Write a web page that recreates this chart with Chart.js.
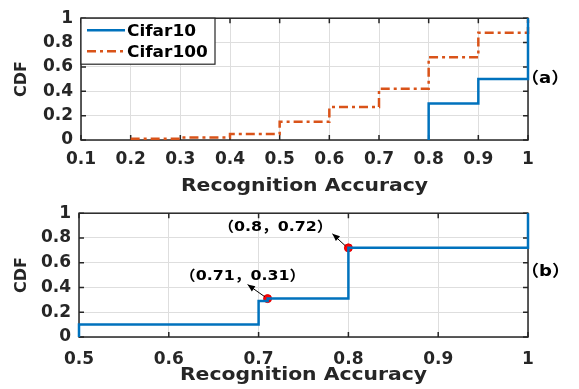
<!DOCTYPE html>
<html>
<head>
<meta charset="utf-8">
<script src="https://cdn.jsdelivr.net/npm/chart.js@4.4.1/dist/chart.umd.min.js"></script>
<style>
  body { margin: 0; background: #fff; }
  #wrap { position: relative; width: 579px; height: 389px; }
  canvas { position: absolute; left: 0; }
</style>
</head>
<body>
<div id="wrap">
  <canvas id="chartA" width="579" height="195" style="top:0"></canvas>
  <canvas id="chartB" width="579" height="194" style="top:195px"></canvas>
</div>
<script>
// --- DATA ---
const yTicks = [0, 0.2, 0.4, 0.6, 0.8, 1];
const topXTicks = [0.1, 0.2, 0.3, 0.4, 0.5, 0.6, 0.7, 0.8, 0.9, 1];
const bottomXTicks = [0.5, 0.6, 0.7, 0.8, 0.9, 1];

const cifar10X = [0.8, 0.8, 0.9, 1];
const cifar10Y = [0, 0.3, 0.5, 1];
const cifar100X = [0.2, 0.3, 0.4, 0.5, 0.6, 0.7, 0.8, 0.9, 1];
const cifar100Y = [0.01, 0.02, 0.05, 0.15, 0.27, 0.42, 0.68, 0.88, 1];

const detailX = [0.5, 0.5, 0.7, 0.71, 0.8, 1];
const detailY = [0, 0.1, 0.29, 0.31, 0.72, 1];
const markedX = [0.71, 0.8];
const markedY = [0.31, 0.72];
const markLabels = ['（0.71，0.31）', '（0.8，0.72）'];

const BLUE = '#0072BD';
const ORANGE = '#D95319';
const FONT = '"DejaVu Sans", sans-serif';
const STRETCH = 1.13; // reference text is a bit wider than the fonts we have

const pts = (xs, ys) => xs.map((v, i) => ({ x: v, y: ys[i] }));
const fmt = v => String(+v.toFixed(2));

// pixel offsets of the annotation arrows / texts relative to the marked point
const arrowOffsets = [[-20, -14], [-16, -14]];
const textOffsets = [[-25, -19], [-73, -17]];

// draw text with latin parts in DejaVu and full-width parts in Noto CJK, stretched a bit
function drawText(ctx, str, x, y, size, align) {
    const parts = [];
    for (const ch of str) {
        const cjk = ch.charCodeAt(0) >= 0x3000;
        const last = parts[parts.length - 1];
        if (last && last.cjk === cjk) last.t += ch; else parts.push({ t: ch, cjk });
    }
    const fontOf = p => 'bold ' + size + 'px ' + (p.cjk ? '"Noto Sans CJK SC"' : FONT);
    let w = 0;
    parts.forEach(p => { ctx.font = fontOf(p); p.w = ctx.measureText(p.t).width; w += p.w; });
    let cx = align === 'center' ? -w / 2 : (align === 'right' ? -w : 0);
    ctx.save();
    ctx.translate(x, y);
    ctx.scale(STRETCH, 1);
    ctx.textAlign = 'left';
    ctx.textBaseline = 'alphabetic';
    parts.forEach(p => { ctx.font = fontOf(p); ctx.fillText(p.t, cx, 0); cx += p.w; });
    ctx.restore();
}

// MATLAB-like box, inward ticks, legend and annotations
const frame = {
    id: 'frame',
    beforeDatasetsDraw(chart) {
        const { ctx, chartArea: a, scales: { x, y } } = chart;
        ctx.save();
        ctx.strokeStyle = '#262626';
        ctx.lineWidth = 1.5;
        ctx.beginPath();
        x.ticks.forEach(t => {
            const px = x.getPixelForValue(t.value);
            ctx.moveTo(px, a.bottom); ctx.lineTo(px, a.bottom - 5);
            ctx.moveTo(px, a.top); ctx.lineTo(px, a.top + 5);
        });
        y.ticks.forEach(t => {
            const py = y.getPixelForValue(t.value);
            ctx.moveTo(a.left, py); ctx.lineTo(a.left + 5, py);
            ctx.moveTo(a.right, py); ctx.lineTo(a.right - 5, py);
        });
        ctx.stroke();
        ctx.strokeRect(a.left, a.top, a.right - a.left, a.bottom - a.top);
        ctx.restore();
    },
    afterDraw(chart, args, opts) {
        const { ctx, chartArea: a, scales: { x, y } } = chart;
        ctx.save();
        ctx.fillStyle = '#262626';

        // x axis title
        drawText(ctx, 'Recognition Accuracy', (a.left + a.right) / 2, a.bottom + opts.titleBase, 18, 'center');

        // panel label
        ctx.fillStyle = '#000';
        drawText(ctx, opts.panel, a.right - 7, y.getPixelForValue(opts.panelY), 16, 'left');

        if (opts.legend) {
            const lx = a.left, ly = a.top, w = 134, h = 46;
            ctx.fillStyle = '#fff';
            ctx.fillRect(lx, ly, w, h);
            ctx.strokeStyle = '#262626';
            ctx.lineWidth = 1.2;
            ctx.strokeRect(lx, ly, w, h);
            chart.data.datasets.forEach((ds, i) => {
                const cy = ly + 12 + i * 21;
                ctx.strokeStyle = ds.borderColor;
                ctx.lineWidth = ds.borderWidth;
                ctx.setLineDash(ds.borderDash || []);
                ctx.beginPath();
                ctx.moveTo(lx + 6, cy); ctx.lineTo(lx + 44, cy);
                ctx.stroke();
                ctx.setLineDash([]);
                ctx.fillStyle = '#000';
                drawText(ctx, ds.label, lx + 46, cy + 6, 15, 'left');
            });
        }

        if (opts.marks) {
            ctx.strokeStyle = '#000';
            ctx.fillStyle = '#000';
            ctx.lineWidth = 1;
            markedX.forEach((mx, i) => {
                const px = x.getPixelForValue(mx), py = y.getPixelForValue(markedY[i]);
                const tx = px + arrowOffsets[i][0], ty = py + arrowOffsets[i][1];
                ctx.beginPath();
                ctx.moveTo(px - 3, py - 2); ctx.lineTo(tx, ty);
                ctx.stroke();
                const ang = Math.atan2(ty - py, tx - px);
                ctx.beginPath();
                ctx.moveTo(tx, ty);
                ctx.lineTo(tx - 8 * Math.cos(ang - 0.4), ty - 8 * Math.sin(ang - 0.4));
                ctx.lineTo(tx - 8 * Math.cos(ang + 0.4), ty - 8 * Math.sin(ang + 0.4));
                ctx.closePath();
                ctx.fill();
                drawText(ctx, markLabels[i], px + textOffsets[i][0], py + textOffsets[i][1], 14, 'center');
            });
        }
        ctx.restore();
    }
};

function axes(xTicks, yWidth, xHeight, tickPad) {
    return {
        x: {
            type: 'linear',
            min: xTicks[0], max: xTicks[xTicks.length - 1],
            afterBuildTicks: s => { s.ticks = xTicks.map(v => ({ value: v })); },
            afterFit: s => { s.height = xHeight; },
            grid: { color: '#dedede', lineWidth: 1, drawTicks: false },
            border: { display: false },
            ticks: { color: '#262626', padding: tickPad, maxRotation: 0, autoSkip: false,
                     font: { family: FONT, size: 17, weight: 'bold' }, callback: fmt }
        },
        y: {
            min: 0, max: 1,
            afterBuildTicks: s => { s.ticks = yTicks.map(v => ({ value: v })); },
            afterFit: s => { s.width = yWidth; },
            grid: { color: '#dedede', lineWidth: 1, drawTicks: false },
            border: { display: false },
            ticks: { color: '#262626', padding: 8,
                     font: { family: FONT, size: 17, weight: 'bold' }, callback: fmt },
            title: { display: true, text: 'CDF', color: '#262626',
                     font: { family: FONT, size: 16, weight: 'bold' },
                     padding: { top: 12, bottom: 0 } }
        }
    };
}

const common = {
    responsive: false,
    animation: false,
    layout: { padding: { top: 12, right: 51, left: 0, bottom: 0 } },
    elements: { point: { radius: 0 } }
};

new Chart(document.getElementById('chartA'), {
    type: 'scatter',
    data: {
        datasets: [
            { label: 'Cifar10', data: pts(cifar10X, cifar10Y), showLine: true, stepped: 'before',
              borderColor: BLUE, borderWidth: 2.5, pointRadius: 0, clip: 6 },
            { label: 'Cifar100', data: pts(cifar100X, cifar100Y), showLine: true, stepped: 'before',
              borderColor: ORANGE, borderWidth: 2.5, borderDash: [9, 4, 3, 4], pointRadius: 0, clip: 6 }
        ]
    },
    options: {
        ...common,
        scales: axes(topXTicks, 81, 55, 9),
        plugins: {
            legend: { display: false },
            tooltip: { enabled: false },
            frame: { legend: true, marks: false, panel: '（a）', panelY: 0.47, titleBase: 51 }
        }
    },
    plugins: [frame]
});

new Chart(document.getElementById('chartB'), {
    type: 'scatter',
    data: {
        datasets: [
            { label: 'detail', data: pts(detailX, detailY), showLine: true, stepped: 'before',
              borderColor: BLUE, borderWidth: 2.5, pointRadius: 0, clip: 6 },
            { label: 'marked', data: pts(markedX, markedY), showLine: false,
              pointRadius: 4, pointBackgroundColor: '#ff0000', pointBorderColor: '#e00000',
              pointBorderWidth: 1, clip: 6 }
        ]
    },
    options: {
        ...common,
        scales: axes(bottomXTicks, 79, 52, 12),
        plugins: {
            legend: { display: false },
            tooltip: { enabled: false },
            frame: { legend: false, marks: true, panel: '（b）', panelY: 0.49, titleBase: 43 }
        }
    },
    plugins: [frame]
});
</script>
</body>
</html>
